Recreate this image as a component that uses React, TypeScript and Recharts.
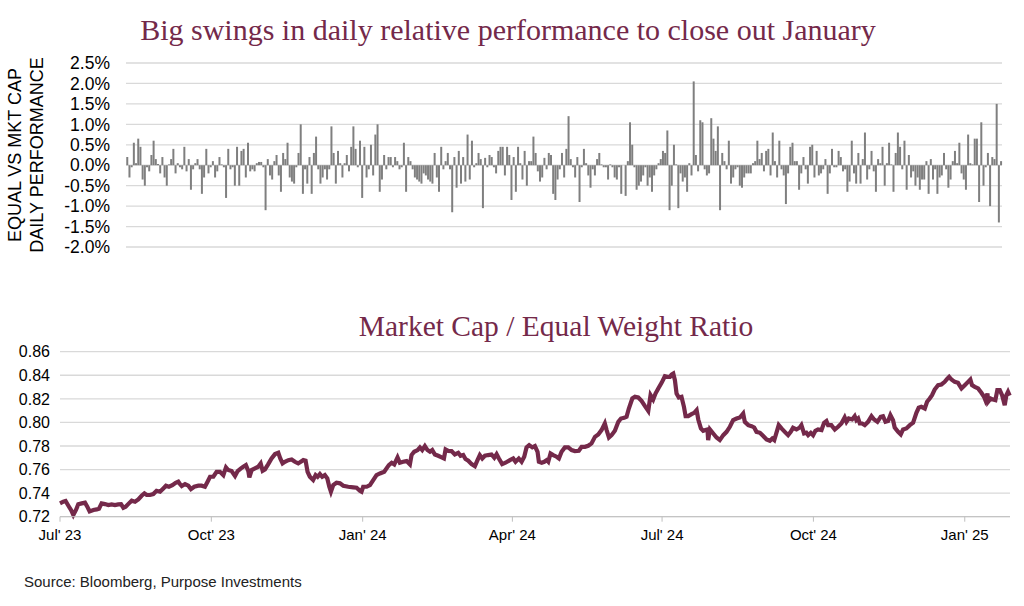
import React from 'react';
import { BarChart, Bar, XAxis, YAxis, CartesianGrid, LineChart, Line } from 'recharts';

// Daily relative performance, equal weight vs market cap (%), one bar per trading day Jul'23 - Jan'25
const perfValues: number[] = [
  0.2, -0.3, -0.05, 0.55, 0.05, 0.65, 0.45, -0.35, -0.5, -0.05,
  -0.15, 0.25, 0.6, 0.15, 0.03, -0.2, 0.2, -0.3, -0.5, 0.02,
  0.15, 0.4, -0.2, 0.05, -0.05, -0.1, 0.45, -0.15, 0.15, -0.6,
  -0.1, 0.05, 0.15, -0.1, -0.7, -0.3, 0.4, -0.2, -0.05, 0.1,
  -0.3, -0.15, 0.2, 0.02, -0.05, -0.8, 0.4, -0.1, -0.05, -0.5,
  0.45, -0.5, 0.35, 0.4, -0.3, 0.55, -0.15, -0.1, -0.15, 0.05,
  0.08, 0.08, -0.05, -1.1, 0.15, -0.25,
  -0.35, 0.1, 0.25, -0.25, -0.65, 0.3, 0.15, 0.55, -0.3, -0.4,
  -0.45, -0.05, 0.3, 1.0, -0.7, -0.1, -0.45, 0.2, -0.7, 0.3,
  0.7, -0.1, -0.45, -0.3, -0.1, -0.35, -0.1, 0.95, 0.3, -0.45,
  0.35, 0.05, -0.3, 0.05, 0.25, -0.15, 0.45, 0.95, 0.4, -0.05,
  0.6, -0.8, 0.45, -0.3, -0.1, 0.5, -0.25, 0.75, 1.0, -0.65,
  -0.35, 0.25, -0.1, 0.2, 0.2, -0.05, 0.2, 0.1, -0.1, -0.05,
  0.55, -0.65, 0.2, 0.1, -0.1, -0.3,
  -0.35, -0.4, -0.45, -0.2, -0.25, -0.35, -0.4, -0.45, 0.3, -0.3,
  -0.65, 0.45, -0.1, 0.1, 0.3, -0.1, -1.15, 0.2, -0.55, 0.35,
  -0.45, 0.2, -0.4, 0.75, -0.35, 0.6, -0.05, 0.05, 0.3, 0.15,
  -1.05, 0.18, -0.05, 0.25, 0.2, -0.05, -0.2, 0.35, 0.45, 0.45,
  -0.25, 0.45, 0.25, -0.85, 0.2, -0.65, 0.45, 0.05, -0.35, 0.35,
  -0.5, 0.1, 0.1, 0.7, 0.3, -0.15, -0.4, -0.3, 0.18, -0.1,
  0.3, 0.25, -0.7, -0.85, -0.35,
  -0.1, 0.3, -0.3, 0.4, 1.2, 0.15, -0.05, -0.3, 0.2, -0.9,
  -0.05, 0.4, 0.05, -0.25, -0.55, -0.1, -0.25, 0.15, 0.3, 0.02,
  -0.05, -0.05, -0.35, 0.02, -0.05, -0.3, -0.35, -0.05, -0.7, 0.0,
  -0.75, 0.1, 1.05, 0.5, -0.05, -0.6, -0.5, -0.4, -0.25, -0.05,
  -0.5, -0.3, -0.65, -0.25, -0.1, 0.05, 0.15, 0.35, 0.3, 0.85,
  -1.1, -0.5, 0.5, 0.02, -1.05, -0.2, -0.4, -0.3, -0.65, 0.05,
  -0.25, 2.05, 0.25, -0.15, 1.1, 1.05,
  -0.1, -0.25, -0.2, 1.15, 0.65, 0.35, 0.95, -1.1, 0.3, 0.1,
  -0.1, 0.6, -0.45, -0.3, -0.1, -0.05, -0.5, -0.55, -0.3, -0.2,
  -0.2, -0.2, 0.05, 0.1, 0.6, 0.15, 0.3, -0.15, 0.35, 0.4,
  -0.25, 0.8, 0.1, -0.3, 0.6, -0.1, -0.25, -0.95, -0.2, 0.45,
  0.55, 0.1, 0.1, -0.6, -0.2, 0.2, -0.1, -0.45, 0.45, 0.5,
  -0.3, 0.35, -0.25, -0.2, -0.1, 0.15, -0.7, -0.2, 0.4, -0.05,
  -0.05, 0.35, 0.2, -0.15, -0.1, -0.65,
  -0.4, 0.6, -0.2, -0.45, 0.3, -0.45, 0.15, 0.8, -0.35, -0.1,
  0.35, -0.15, -0.65, 0.15, 0.05, 0.45, -0.5, 0.05, 0.55, 0.02,
  -0.65, 0.3, 0.8, 0.45, -0.1, 0.6, -0.6, 0.25, -0.3, -0.15,
  -0.5, -0.3, -0.6, -0.35, -0.35, 0.1, -0.7, 0.15, -0.35, -0.1,
  -0.7, -0.3, -0.25, 0.3, -0.1, -0.55, -0.35, 0.1, 0.35, 0.05,
  0.55, -0.2, -0.35, -0.6, 0.75, 0.05, 0.02, 0.65, 0.65, -0.9,
  1.05, -0.5, -0.05, 0.3, -1.0, 0.2, 0.15, 1.5, -1.4, 0.1,
];
const perfTicks = [-2, -1.5, -1, -0.5, 0, 0.5, 1, 1.5, 2, 2.5];

// Market cap / equal weight ratio: calendar days since 1 Jul 2023, and ratio values
const ratioDays: number[] = [
  0, 2, 3.4, 5.1, 6.7, 8.1, 9.7, 11.1, 13.2, 15.2, 16.6, 18, 20.3, 22.3, 23.7, 25.3, 27.3, 29.4, 31.4, 33.4,
  35.4, 37.1, 38.5, 39.9, 41.9, 43.6, 45.6, 47.6, 49.6, 51.3, 52.7, 54.7, 56.7, 58.7, 60.8, 62.8, 64.4, 66.2, 68.3, 70.3,
  71.9, 72.9, 74, 76, 78, 79.6, 81.6, 84.1, 86.1, 88.1, 89.7, 91.2, 93.2, 95.2, 97.2, 99.3, 100.9, 102.3, 104.3, 106.4,
  108, 110, 111.4, 113, 114.5, 115.1, 116.5, 118.5, 120.5, 122, 123.2, 124.6, 126.6, 128.6, 130.7, 132.7, 133.9, 135.3, 136.7, 138.8,
  140.8, 142.8, 144.8, 147.9, 149.3, 150.5, 151.9, 153.9, 155.4, 156.6, 158, 159.4, 161, 162.5, 163.7, 164.7, 166.1, 168.1, 170.2, 172.2,
  175.2, 178.3, 180.3, 182.3, 183.3, 184.3, 186.4, 188.4, 190.4, 192.4, 194.5, 197.1, 198.5, 199.9, 201.6, 203.2, 205.2, 206.6, 208.6, 210.7,
  212.7, 213.7, 215.3, 217.4, 218.8, 220.2, 221.8, 223.4, 224.9, 226.3, 227.9, 229.9, 232, 233.4, 234.4, 236, 238, 240, 242.1, 243.5,
  245.1, 246.5, 248.2, 250.2, 252.2, 253.8, 255.2, 256.7, 258.3, 260.3, 262.3, 264, 265.4, 266.8, 268.8, 270.8, 273.5, 275.5, 276.9, 278.9,
  280.6, 282.2, 283.6, 285.2, 287.1, 288.7, 290.3, 291.1, 292.8, 294.4, 295.8, 296.8, 298.2, 299.8, 301.9, 303.3, 304.9, 306.9, 309, 311,
  313, 315.4, 317.1, 319.1, 321.1, 323.1, 325.2, 327.2, 329.2, 331.2, 332.3, 333.7, 335.3, 337.3, 339.4, 341, 343, 344.4, 345.8, 347.9,
  349.5, 351.5, 353.5, 355.6, 357.6, 359, 360.6, 362, 363.7, 365.7, 367.7, 369.3, 370.8, 371.8, 372.8, 373.8, 374.8, 376.2, 377.8, 379.3,
  380.3, 381.9, 383.9, 385.5, 387, 388, 389.6, 391, 392.4, 393.6, 394, 395.1, 397.1, 399.1, 401.1, 403.2, 405.2, 407.2, 409.2, 411.3,
  413.3, 415.3, 416.3, 418.4, 420.4, 422, 423.4, 425.5, 427.5, 429.5, 431.5, 433, 434.2, 436.9, 438.6, 440.6, 442.6, 444.2, 445.6, 447.7,
  449.7, 450.7, 452.3, 453.7, 454.8, 456.4, 457.8, 459.2, 460.8, 462.9, 464.5, 465.9, 466.9, 468.9, 471, 473, 475, 477, 478.1, 479.5,
  481.5, 483.1, 484.1, 485.2, 486.2, 487.6, 489.2, 491.2, 493.3, 494.9, 496.9, 498.9, 500.3, 501.8, 503.4, 504.8, 506.4, 507.4, 509.5, 511.1,
  512.5, 514.5, 516.6, 518.6, 520.6, 522, 523.6, 525.7, 527.1, 528.7, 530.1, 531.7, 533.8, 535.8, 537.8, 539.4, 540.5, 541.9, 543.9, 545.9,
  548, 550, 552, 553.4, 554.4, 556.1, 558.1, 560.1, 561.7, 562.5, 563.8, 564.2, 565.8, 567.2, 568.6, 569.8, 571.3, 572.7, 574.3, 575.3,
  576.3, 577.3,
];
const ratioValues: number[] = [
  0.7313, 0.7327, 0.7333, 0.7293, 0.7257, 0.7214, 0.7257, 0.7305, 0.7313, 0.7319, 0.7285, 0.7245, 0.7257, 0.7262, 0.7268, 0.7313, 0.7307, 0.7299, 0.7305, 0.7299,
  0.7305, 0.7307, 0.7276, 0.7285, 0.7313, 0.7336, 0.7327, 0.7347, 0.7378, 0.7398, 0.7384, 0.7384, 0.7392, 0.742, 0.7412, 0.744, 0.7463, 0.7454, 0.7468, 0.7488,
  0.7497, 0.7477, 0.746, 0.7477, 0.7463, 0.7434, 0.7454, 0.7463, 0.7463, 0.7454, 0.7497, 0.7539, 0.7539, 0.7581, 0.7581, 0.7553, 0.7618, 0.7596, 0.7587, 0.7545,
  0.7587, 0.761, 0.7624, 0.7638, 0.7587, 0.7533, 0.7596, 0.761, 0.7624, 0.7652, 0.759, 0.7601, 0.7646, 0.7694, 0.7731, 0.7742, 0.7694, 0.7652, 0.7666, 0.768,
  0.7686, 0.7666, 0.7652, 0.768, 0.7675, 0.7581, 0.7539, 0.7511, 0.7553, 0.7539, 0.7562, 0.7539, 0.7553, 0.7525, 0.7454, 0.7412, 0.7468, 0.7488, 0.7483, 0.7463,
  0.7454, 0.7449, 0.7446, 0.742, 0.7412, 0.7454, 0.7454, 0.7468, 0.7511, 0.7553, 0.7567, 0.7581, 0.761, 0.7638, 0.7658, 0.7644, 0.7703, 0.7658, 0.7666, 0.7672,
  0.7644, 0.7723, 0.7751, 0.7765, 0.7788, 0.7765, 0.7799, 0.7765, 0.7751, 0.7765, 0.7728, 0.7717, 0.7703, 0.7694, 0.7771, 0.7759, 0.7757, 0.7728, 0.7742, 0.7717,
  0.7723, 0.7689, 0.7675, 0.7646, 0.7629, 0.768, 0.7723, 0.7694, 0.7717, 0.7723, 0.7728, 0.77, 0.7731, 0.7694, 0.7646, 0.7658, 0.768, 0.7694, 0.7666, 0.7694,
  0.7666, 0.7709, 0.7788, 0.7807, 0.7788, 0.7799, 0.7751, 0.7666, 0.7658, 0.7666, 0.768, 0.7666, 0.7737, 0.7723, 0.7709, 0.7694, 0.7751, 0.7788, 0.7788, 0.7765,
  0.7757, 0.7759, 0.7793, 0.7793, 0.7802, 0.7822, 0.7878, 0.7898, 0.7935, 0.7991, 0.7935, 0.7872, 0.7892, 0.7929, 0.8005, 0.8033, 0.8039, 0.8048, 0.8118, 0.8203,
  0.8217, 0.8211, 0.8183, 0.8138, 0.8098, 0.8231, 0.8194, 0.8245, 0.8288, 0.8336, 0.8392, 0.8387, 0.8387, 0.8406, 0.8415, 0.8358, 0.8245, 0.8211, 0.8217, 0.8132,
  0.8053, 0.8053, 0.807, 0.8081, 0.8104, 0.8025, 0.7949, 0.7929, 0.7935, 0.794, 0.785, 0.794, 0.7906, 0.7872, 0.785, 0.7892, 0.792, 0.7963, 0.8019, 0.8033,
  0.8042, 0.8076, 0.8005, 0.7977, 0.7968, 0.7957, 0.792, 0.7912, 0.7884, 0.7855, 0.7844, 0.7864, 0.785, 0.7977, 0.7949, 0.792, 0.7892, 0.792, 0.7954, 0.794,
  0.7957, 0.7977, 0.7906, 0.7912, 0.7892, 0.7912, 0.7892, 0.7929, 0.794, 0.7935, 0.7997, 0.8011, 0.7977, 0.7977, 0.794, 0.7963, 0.7991, 0.8042, 0.8005, 0.8033,
  0.8025, 0.8053, 0.8019, 0.8033, 0.7991, 0.7991, 0.7977, 0.8005, 0.8053, 0.8025, 0.8005, 0.8048, 0.8053, 0.8005, 0.8011, 0.8062, 0.8019, 0.7957, 0.792, 0.7898,
  0.794, 0.7949, 0.7977, 0.7997, 0.8081, 0.8124, 0.8132, 0.8118, 0.8175, 0.8203, 0.8231, 0.8279, 0.8316, 0.8322, 0.8344, 0.8372, 0.8387, 0.8364, 0.8344, 0.8336,
  0.8288, 0.8316, 0.8344, 0.8364, 0.8316, 0.8302, 0.8288, 0.8251, 0.8217, 0.8189, 0.8245, 0.8175, 0.8203, 0.8194, 0.8189, 0.8274, 0.8274, 0.8231, 0.8146, 0.8231,
  0.826, 0.8228,
];
const ratioTicks = [0.72, 0.74, 0.76, 0.78, 0.8, 0.82, 0.84, 0.86];
const quarterDays = [0, 92, 184, 275, 366, 458, 550];
const quarterLabels = ["Jul' 23", "Oct' 23", "Jan' 24", "Apr' 24", "Jul' 24", "Oct' 24", "Jan' 25"];
const lastDay = 577.5;

const barData = perfValues.map((v, i) => ({ idx: i, perf: v }));
const lineData = ratioDays.map((d, i) => ({ day: d, ratio: ratioValues[i] }));

const MAROON = '#74294a';
const SANS = '"Liberation Sans", Arial, sans-serif';
const SERIF = '"Liberation Serif", "Times New Roman", serif';

export default function App() {
  return (
    <div style={{ position: 'absolute', left: 0, top: 0, width: 1024, height: 606, background: '#fff', overflow: 'hidden' }}>
      <div style={{ position: 'absolute', left: 8, top: 12, width: 1000, textAlign: 'center', fontFamily: SERIF, fontSize: 30, color: MAROON, lineHeight: '36px' }}>
        Big swings in daily relative performance to close out January
      </div>
      <div style={{ position: 'absolute', left: -96, top: 130, width: 250, height: 50, transform: 'rotate(-90deg)', textAlign: 'center', fontFamily: SANS, fontSize: 18, lineHeight: '22px', color: '#000' }}>
        EQUAL VS MKT CAP<br />DAILY PERFORMANCE
      </div>
      <div style={{ position: 'absolute', left: 0, top: 0 }}>
        <BarChart width={1024} height={260} data={barData} margin={{ top: 63, right: 22, bottom: 13, left: 0 }} barCategoryGap="12%">
          <CartesianGrid vertical={false} stroke="#d9d9d9" strokeWidth={1.3} />
          <XAxis dataKey="idx" hide />
          <YAxis
            width={126}
            domain={[-2, 2.5]}
            ticks={perfTicks}
            interval={0}
            tickFormatter={(v: number) => v.toFixed(1) + '%'}
            axisLine={false}
            tickLine={false}
            tickSize={0}
            tickMargin={16}
            tick={{ fontSize: 17.5, fill: '#000', fontFamily: SANS }}
          />
          <Bar dataKey="perf" fill="#7f7f7f" isAnimationActive={false} />
        </BarChart>
      </div>
      <div style={{ position: 'absolute', left: 56, top: 308, width: 1000, textAlign: 'center', fontFamily: SERIF, fontSize: 29.5, color: MAROON, lineHeight: '36px' }}>
        Market Cap / Equal Weight Ratio
      </div>
      <div style={{ position: 'absolute', left: 0, top: 300 }}>
        <LineChart width={1024} height={270} data={lineData} margin={{ top: 51.7, right: 14, bottom: 23.3, left: 0 }}>
          <CartesianGrid vertical={false} stroke="#d9d9d9" strokeWidth={1.3} />
          <XAxis
            dataKey="day"
            type="number"
            domain={[0, lastDay]}
            ticks={quarterDays}
            interval={0}
            tickFormatter={(v: number) => quarterLabels[quarterDays.indexOf(v)] ?? ''}
            stroke="#bfbfbf"
            tickSize={5}
            tickMargin={8}
            height={30}
            tick={{ fontSize: 15, fill: '#000', fontFamily: SANS }}
          />
          <YAxis
            width={60}
            domain={[0.72, 0.86]}
            ticks={ratioTicks}
            interval={0}
            tickFormatter={(v: number) => v.toFixed(2)}
            axisLine={false}
            tickLine={false}
            tickSize={0}
            tickMargin={10}
            tick={{ fontSize: 16, fill: '#000', fontFamily: SANS }}
          />
          <Line type="linear" dataKey="ratio" stroke={MAROON} strokeWidth={4.2} dot={false} isAnimationActive={false} />
        </LineChart>
      </div>
      <div style={{ position: 'absolute', left: 24, top: 573, fontFamily: SANS, fontSize: 15, color: '#222' }}>
        Source: Bloomberg, Purpose Investments
      </div>
    </div>
  );
}
